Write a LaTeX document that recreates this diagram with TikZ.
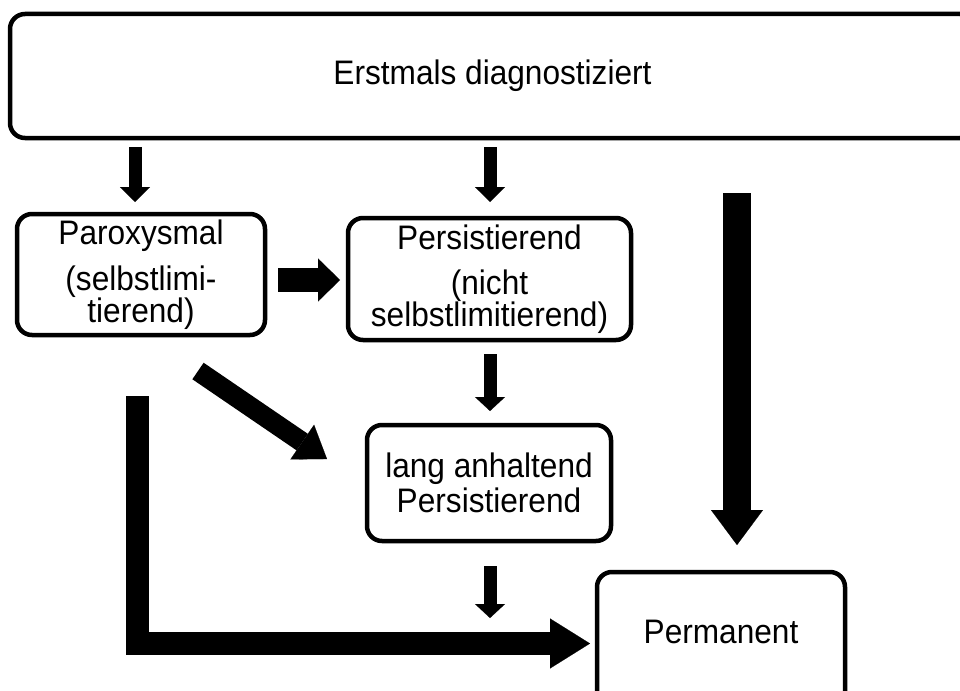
\documentclass[tikz,border=0pt]{standalone}
\usepackage{fontspec}
\setmainfont{Liberation Sans}[FakeStretch=0.93]
\usetikzlibrary{arrows.meta,calc}
\begin{document}
\begin{tikzpicture}[x=1pt,y=-1pt,
  box/.style={draw, line width=4.5pt, rounded corners=15pt, align=center,
    font=\fontsize{34pt}{32pt}\selectfont, inner sep=0pt, outer sep=0pt},
  fat/.style n args={3}{line width=#1, line join=miter,
    -{Triangle[length=#2,width=#3,line width=0.1pt]}}
]
\useasboundingbox (0,0) rectangle (960,690);
\clip (0,0) rectangle (960,690);

\node[box, minimum width=965pt, minimum height=124pt, text height=25pt, text depth=7pt]
  (top) at (492.5,76) {Erstmals diagnostiziert};
\node[box, minimum width=248pt, minimum height=121pt]
  (par) at (141,274.5) {Paroxysmal\\[14pt](selbstlimi-\\tierend)};
\node[box, minimum width=283pt, minimum height=122pt]
  (pers) at (489.5,279) {Persistierend\\[13pt](nicht\\selbstlimitierend)};
\node[box, minimum width=244pt, minimum height=116pt, yshift=-2pt]
  (lang) at (489,481) {lang anhaltend\\[3pt]Persistierend};
\node[box, minimum width=248pt, minimum height=168pt, text height=25pt, text depth=51pt]
  (perm) at (721,656) {Permanent};

% arrows
\draw[fat={13pt}{15pt}{30pt}] ($(top.south -| par.north)+(-6,9)$) -- ($(par.north)+(-6,-12)$);
\draw[fat={13pt}{15pt}{30pt}] ($(top.south -| pers.north)+(0.5,9)$) -- ($(pers.north)+(0.5,-16)$);
\draw[fat={24pt}{22pt}{43pt}] ($(par.east |- pers.west)+(13,1)$) -- ($(pers.west)+(-8,1)$);
\draw[fat={13pt}{14pt}{30pt}] ($(pers.south)+(0.5,14)$) -- ($(lang.north)+(1,-14)$);
\coordinate (langend) at ($(lang.south)+(1,77)$);
\draw[fat={13pt}{14pt}{30pt}] ($(lang.south)+(1,25)$) -- (langend);
\draw[fat={20pt}{30pt}{42pt}] ($(par.south)+(57,36)$) -- ($(lang.west)+(-40,-24)$);
\draw[fat={28pt}{35pt}{52pt}] ($(top.south -| perm.north)+(16,55)$) -- ($(perm.north)+(16,-27)$);
\draw[fat={23pt}{40pt}{50pt}] ($(par.south)+(-3.5,61)$) |- ($(perm.west)+(-7,-12.5)$);
\end{tikzpicture}
\end{document}
